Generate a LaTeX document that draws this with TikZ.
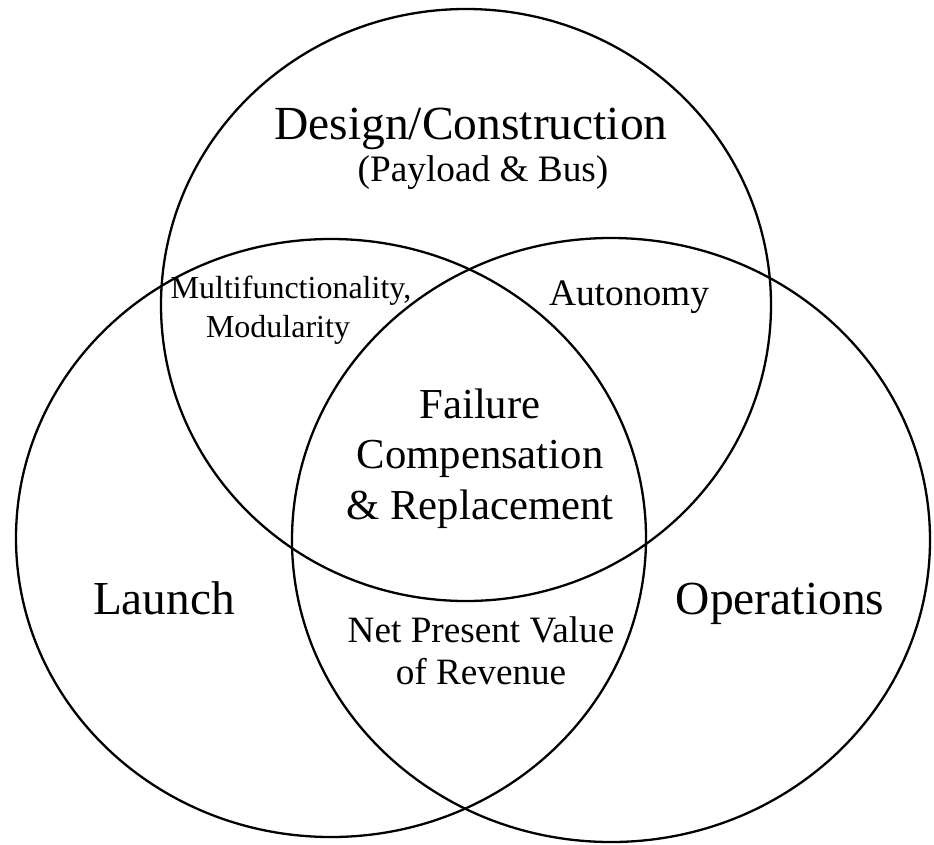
\documentclass[tikz,border=0pt]{standalone}
\usepackage{fontspec}
\setmainfont{Liberation Serif}
\usetikzlibrary{positioning}

\begin{document}
\begin{tikzpicture}[x=1pt,y=-1pt,
  ring/.style={line width=2.3pt},
  lbl/.style={anchor=base,align=center,inner sep=0pt}]
\useasboundingbox (0,0) rectangle (934,844);

% Circles
\draw[ring] (466,305) ellipse [x radius=305, y radius=296];
\draw[ring] (331,538) ellipse [x radius=315, y radius=299];
\draw[ring] (611,540) ellipse [x radius=319, y radius=302];

% Labels of the sets
\node[lbl,font=\fontsize{47.5}{50}\selectfont] (design) at (471,139) {Design/Construction};
\node[lbl,font=\fontsize{37.3}{40}\selectfont] (payload) at (483,181) {(Payload \& Bus)};
\node[lbl,font=\fontsize{47.3}{50}\selectfont] (launch) at (164,614) {Launch};
\node[lbl,font=\fontsize{47.5}{50}\selectfont] (ops) at (780,614) {Operations};

% Overlaps (base = last line)
\node[lbl,font=\fontsize{32}{38.5}\selectfont] (multi) at (291,337) {Multifunctionality,\\Modularity\hspace*{26pt}};
\node[lbl,font=\fontsize{37.4}{40}\selectfont] (auto) at (629,305) {Autonomy};
\node[lbl,font=\fontsize{42.7}{50.5}\selectfont] (fail) at (480,519) {Failure\\Compensation\\\& Replacement};
\node[lbl,font=\fontsize{37.2}{42}\selectfont] (npv) at (481,684) {Net Present Value\\of Revenue};
\end{tikzpicture}
\end{document}
